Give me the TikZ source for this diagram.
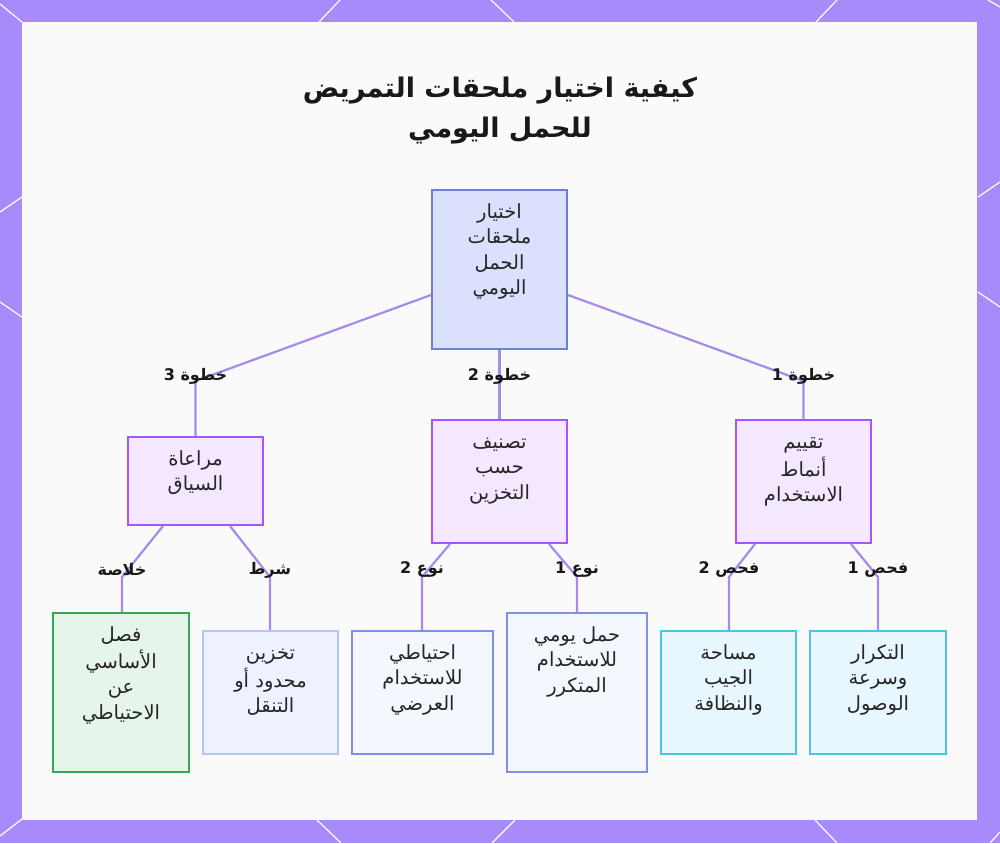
\documentclass[tikz,border=0pt]{standalone}
\usepackage{fontspec}
\setmainfont{DejaVu Sans}
\newfontfamily\arabicfont[Script=Arabic]{DejaVu Sans}
\TeXXeTstate=1
\newcommand{\ar}[1]{\strut\beginR #1\endR}
\definecolor{frame}{HTML}{A78BFA}
\definecolor{inner}{HTML}{FAFAFB}
\definecolor{edgec}{HTML}{A78BEB}
\definecolor{rootfill}{HTML}{DBE0FC}
\definecolor{rootdraw}{HTML}{6A7FD8}
\definecolor{stepfill}{HTML}{F3E8FF}
\definecolor{stepdraw}{HTML}{A855F7}
\definecolor{greenfill}{HTML}{E6F5EA}
\definecolor{greendraw}{HTML}{34A853}
\definecolor{palefill}{HTML}{EEF2FF}
\definecolor{paledraw}{HTML}{B8C4F8}
\definecolor{indfill}{HTML}{F5F7FF}
\definecolor{inddraw}{HTML}{7E91E6}
\definecolor{cyanfill}{HTML}{E8F6FD}
\definecolor{cyandraw}{HTML}{4CC4E8}
\tikzset{
  box/.style={rectangle, inner sep=0pt, line width=2pt},
  rootbox/.style={box, fill=rootfill, draw=rootdraw},
  stepbox/.style={box, fill=stepfill, draw=stepdraw},
  greenbox/.style={box, fill=greenfill, draw=greendraw},
  palebox/.style={box, fill=palefill, draw=paledraw},
  indbox/.style={box, fill=indfill, draw=inddraw},
  cyanbox/.style={box, fill=cyanfill, draw=cyandraw},
  boxtext/.style={anchor=north, inner sep=0pt, align=center, text=black!85,
    font=\arabicfont\fontsize{19.5}{25.5}\selectfont},
  edge/.style={draw=edgec, line width=2.2pt},
  lbl/.style={inner sep=0pt, text=black!90, font=\arabicfont\bfseries\fontsize{16}{18}\selectfont},
  deco/.style={draw=white, line width=1.2pt},
}
\begin{document}
\begin{tikzpicture}[x=1pt,y=-1pt]
\useasboundingbox (0,0) rectangle (1000,843);
% frame
\fill[frame] (0,0) rectangle (1000,843);
\draw[deco] (0,4) -- (22,22);
\draw[deco] (340,0) -- (319,22);
\draw[deco] (491,0) -- (514,22);
\draw[deco] (837,0) -- (816,22);
\draw[deco] (988,0) -- (1000,7);
\draw[deco] (22,197) -- (0,212);
\draw[deco] (0,302) -- (22,317);
\draw[deco] (22,819) -- (0,836);
\draw[deco] (978,197) -- (1000,182);
\draw[deco] (978,292) -- (1000,307);
\draw[deco] (317,820) -- (341,843);
\draw[deco] (515,820) -- (492,843);
\draw[deco] (815,820) -- (837,843);
\draw[deco] (1000,832) -- (990,843);
\fill[inner] (22,22) rectangle (977,820);

% title
\node[anchor=north, inner sep=0pt, align=center, text=black!90,
  font=\arabicfont\bfseries\fontsize{27}{40}\selectfont] (title) at (500,69)
  {\ar{كيفية اختيار ملحقات التمريض}\\\ar{للحمل اليومي}};

% boxes
\node[rootbox, minimum width=135pt, minimum height=159pt] (root) at (499.5,269.5) {};
\node[stepbox, minimum width=135pt, minimum height=88pt] (s3) at (195.5,481) {};
\node[stepbox, minimum width=135pt, minimum height=123pt] (s2) at (499.5,481.5) {};
\node[stepbox, minimum width=135pt, minimum height=123pt] (s1) at (803.5,481.5) {};
\node[greenbox, minimum width=136pt, minimum height=159pt] (l1) at (121,692.5) {};
\node[palebox, minimum width=135pt, minimum height=123pt] (l2) at (270.5,692.5) {};
\node[indbox, minimum width=141pt, minimum height=123pt] (l3) at (422.5,692.5) {};
\node[indbox, minimum width=140pt, minimum height=159pt] (l4) at (577,692.5) {};
\node[cyanbox, minimum width=135pt, minimum height=123pt] (l5) at (728.5,692.5) {};
\node[cyanbox, minimum width=136pt, minimum height=123pt] (l6) at (878,692.5) {};

% box texts
\node[boxtext] (troot) at ([yshift=-11pt]root.north) {\ar{اختيار}\\\ar{ملحقات}\\\ar{الحمل}\\\ar{اليومي}};
\node[boxtext] (ts3) at ([yshift=-11pt]s3.north) {\ar{مراعاة}\\\ar{السياق}};
\node[boxtext] (ts2) at ([yshift=-11pt]s2.north) {\ar{تصنيف}\\\ar{حسب}\\\ar{التخزين}};
\node[boxtext] (ts1) at ([yshift=-11pt]s1.north) {\ar{تقييم}\\\ar{أنماط}\\\ar{الاستخدام}};
\node[boxtext] (tl1) at ([yshift=-11pt]l1.north) {\ar{فصل}\\\ar{الأساسي}\\\ar{عن}\\\ar{الاحتياطي}};
\node[boxtext] (tl2) at ([yshift=-11pt]l2.north) {\ar{تخزين}\\\ar{محدود أو}\\\ar{التنقل}};
\node[boxtext] (tl3) at ([yshift=-11pt]l3.north) {\ar{احتياطي}\\\ar{للاستخدام}\\\ar{العرضي}};
\node[boxtext] (tl4) at ([yshift=-11pt]l4.north) {\ar{حمل يومي}\\\ar{للاستخدام}\\\ar{المتكرر}};
\node[boxtext] (tl5) at ([yshift=-11pt]l5.north) {\ar{مساحة}\\\ar{الجيب}\\\ar{والنظافة}};
\node[boxtext] (tl6) at ([yshift=-11pt]l6.north) {\ar{التكرار}\\\ar{وسرعة}\\\ar{الوصول}};

% bend points
\coordinate (b3) at (195.5,381);
\coordinate (b2) at (499.5,381);
\coordinate (b1) at (803.5,381);
\coordinate (c1) at (122,577);
\coordinate (c2) at (270,577);
\coordinate (c3) at (422,577);
\coordinate (c4) at (577,577);
\coordinate (c5) at (729,577);
\coordinate (c6) at (878,577);

% connectors
\draw[edge] ([yshift=-25.5pt]root.west) -- (b3) -- (s3.north);
\draw[edge] (root.south) -- (b2) -- (s2.north);
\draw[edge] ([yshift=-25.5pt]root.east) -- (b1) -- (s1.north);
\draw[edge] ([xshift=-32.5pt]s3.south) -- (c1) -- (c1 |- l1.north);
\draw[edge] ([xshift=34.5pt]s3.south) -- (c2) -- (c2 |- l2.north);
\draw[edge] ([xshift=-49.5pt]s2.south) -- (c3) -- (c3 |- l3.north);
\draw[edge] ([xshift=49.5pt]s2.south) -- (c4) -- (c4 |- l4.north);
\draw[edge] ([xshift=-48.5pt]s1.south) -- (c5) -- (c5 |- l5.north);
\draw[edge] ([xshift=47.5pt]s1.south) -- (c6) -- (c6 |- l6.north);

% connector labels
\node[lbl] (e3) at ([yshift=5pt]b3) {\beginR خطوة 3\endR};
\node[lbl] (e2) at ([yshift=5pt]b2) {\beginR خطوة 2\endR};
\node[lbl] (e1) at ([yshift=5pt]b1) {\beginR خطوة 1\endR};
\node[lbl] (f1) at ([yshift=7pt]c1) {\beginR خلاصة\endR};
\node[lbl] (f2) at ([yshift=7pt]c2) {\beginR شرط\endR};
\node[lbl] (f3) at ([yshift=7pt]c3) {\beginR نوع 2\endR};
\node[lbl] (f4) at ([yshift=7pt]c4) {\beginR نوع 1\endR};
\node[lbl] (f5) at ([yshift=7pt]c5) {\beginR فحص 2\endR};
\node[lbl] (f6) at ([yshift=7pt]c6) {\beginR فحص 1\endR};
\end{tikzpicture}
\end{document}
